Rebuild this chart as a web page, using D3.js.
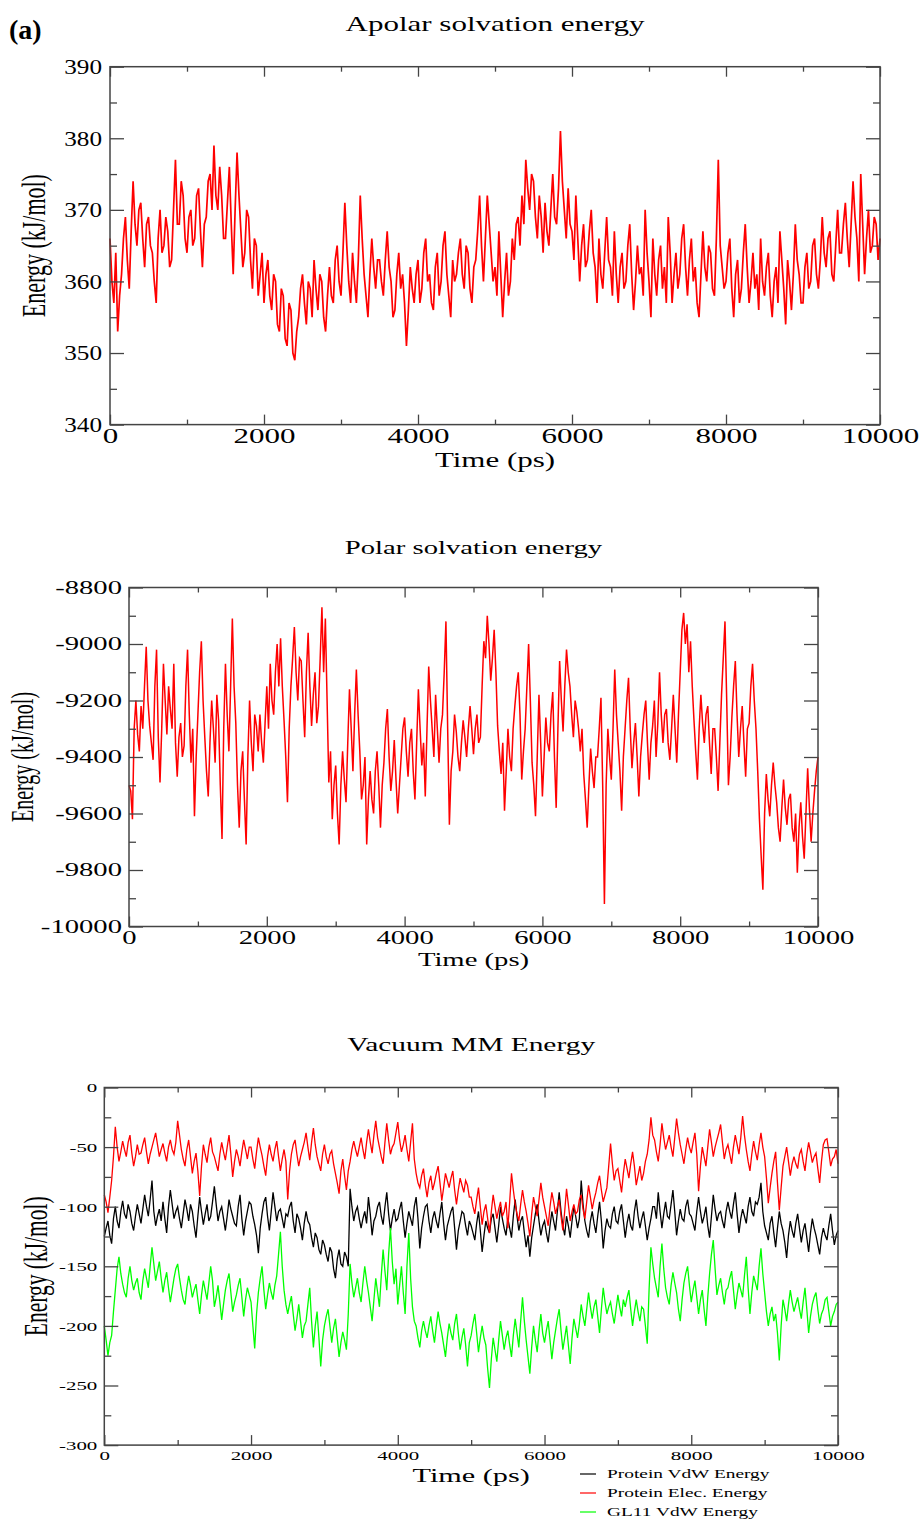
<!DOCTYPE html>
<html>
<head>
<meta charset="utf-8">
<script src="https://cdn.jsdelivr.net/npm/d3@7"></script>
<style>
  body { margin: 0; background: #fff; }
  svg { display: block; }
</style>
</head>
<body>
<div id="chart"></div>
<script>
// sampling of every trajectory (ps between points)
const timeStep = 25;

// Apolar solvation energy (kJ/mol), 0..10000 ps
const apolarEnergy = [
  366, 360, 357, 364, 353, 358, 361, 366, 369, 363, 359, 367, 374, 368, 365, 370, 371, 366, 362, 368,
  369, 365, 364, 360, 357, 366, 370, 364, 365, 369, 367, 362, 363, 370, 377, 368, 368, 374, 372, 366,
  364, 369, 370, 365, 366, 372, 373, 367, 362, 368, 369, 374, 375, 370, 379, 372, 370, 376, 372, 366,
  366, 371, 376, 368, 361, 370, 378, 372, 367, 362, 364, 370, 369, 363, 359, 366, 365, 358, 361, 364,
  357, 361, 363, 358, 356, 361, 360, 354, 353, 359, 358, 352, 351, 357, 356, 350, 349, 353, 355, 359,
  361, 357, 354, 360, 359, 355, 363, 359, 356, 361, 360, 355, 353, 358, 362, 358, 357, 363, 365, 360,
  358, 364, 371, 365, 360, 357, 364, 360, 357, 363, 372, 366, 361, 358, 355, 361, 366, 362, 359, 363,
  363, 360, 358, 363, 367, 362, 360, 355, 356, 361, 364, 359, 361, 357, 351, 356, 362, 359, 357, 361,
  363, 357, 359, 364, 366, 360, 361, 357, 356, 362, 364, 358, 360, 365, 367, 361, 358, 355, 363, 360,
  361, 364, 366, 361, 359, 365, 364, 359, 357, 362, 363, 367, 372, 365, 360, 366, 372, 368, 364, 360,
  362, 358, 367, 361, 355, 360, 364, 358, 360, 366, 363, 368, 369, 365, 372, 368, 377, 373, 370, 375,
  374, 369, 366, 372, 369, 364, 371, 367, 365, 370, 375, 369, 368, 373, 381, 374, 370, 366, 373, 368,
  367, 363, 372, 366, 360, 365, 368, 362, 363, 367, 370, 364, 362, 357, 366, 361, 359, 364, 369, 363,
  362, 358, 367, 361, 357, 362, 364, 359, 360, 365, 368, 361, 356, 360, 365, 361, 362, 358, 370, 364,
  360, 355, 366, 361, 358, 363, 365, 359, 362, 357, 369, 364, 357, 361, 364, 359, 361, 366, 368, 362,
  358, 363, 366, 360, 362, 357, 355, 361, 367, 362, 360, 365, 364, 359, 358, 366, 377, 365, 362, 359,
  360, 364, 366, 359, 355, 361, 363, 357, 359, 364, 368, 362, 357, 360, 364, 359, 361, 356, 366, 360,
  358, 362, 364, 358, 355, 360, 362, 357, 367, 363, 359, 354, 363, 360, 356, 361, 368, 363, 361, 357,
  357, 362, 364, 359, 360, 365, 366, 361, 359, 363, 369, 364, 362, 366, 367, 361, 360, 365, 370, 364,
  364, 368, 371, 366, 362, 368, 374, 369, 366, 360, 375, 368, 361, 366, 370, 364, 365, 369, 368, 363,
  366
];

// Polar solvation energy (kJ/mol)
const polarEnergy = [
  -9500, -9520, -9620, -9300, -9200, -9320, -9380, -9220, -9300, -9150, -9010, -9200, -9290, -9350, -9410, -9150, -9020, -9330, -9490, -9300,
  -9070, -9200, -9320, -9150, -9230, -9300, -9070, -9350, -9470, -9330, -9280, -9400, -9360, -9150, -9020, -9250, -9420, -9300, -9610, -9400,
  -9250, -9100, -8990, -9200, -9330, -9450, -9540, -9350, -9200, -9300, -9420, -9180, -9270, -9500, -9690, -9300, -9070, -9250, -9380, -9150,
  -8910, -9150, -9280, -9500, -9650, -9450, -9380, -9550, -9710, -9400, -9200, -9350, -9450, -9250, -9290, -9380, -9250, -9350, -9420, -9280,
  -9150, -9300, -9070, -9200, -9250, -9100, -9000, -9150, -8980, -9150, -9270, -9400, -9560, -9300, -9150, -9050, -8940, -9100, -9200, -9050,
  -9060, -9200, -9330, -9100, -8960, -9150, -9290, -9180, -9100, -9280, -9220, -9050, -8870, -9100, -8910, -9200, -9490, -9380, -9620, -9500,
  -9430, -9600, -9710, -9500, -9380, -9480, -9560, -9350, -9160, -9300, -9450, -9250, -9090, -9250, -9380, -9550, -9500, -9400, -9710, -9550,
  -9450, -9550, -9600, -9450, -9380, -9500, -9650, -9500, -9420, -9300, -9230, -9400, -9520, -9450, -9340, -9480, -9600, -9500, -9400, -9300,
  -9260, -9380, -9470, -9350, -9300, -9450, -9550, -9350, -9160, -9300, -9430, -9350, -9540, -9300, -9080, -9200, -9300, -9400, -9180, -9300,
  -9420, -9300, -9250, -9100, -8920, -9300, -9640, -9450, -9380, -9250, -9310, -9400, -9450, -9350, -9270, -9330, -9400, -9300, -9220, -9300,
  -9390, -9300, -9250, -9350, -9330, -9150, -8990, -9050, -8900, -9000, -9130, -9050, -8950, -9100, -9290, -9380, -9460, -9350, -9590, -9450,
  -9300, -9400, -9450, -9300, -9220, -9150, -9100, -9250, -9480, -9380, -9300, -9150, -9000, -9200, -9420, -9500, -9610, -9400, -9180, -9350,
  -9540, -9400, -9260, -9350, -9380, -9250, -9170, -9400, -9580, -9300, -9060, -9200, -9310, -9150, -9020, -9100, -9150, -9250, -9330, -9200,
  -9240, -9300, -9380, -9300, -9460, -9550, -9650, -9500, -9370, -9450, -9510, -9400, -9400, -9300, -9190, -9500, -9920, -9500, -9300, -9400,
  -9480, -9300, -9090, -9250, -9350, -9450, -9590, -9400, -9300, -9200, -9120, -9300, -9440, -9350, -9280, -9400, -9540, -9400, -9320, -9250,
  -9200, -9350, -9480, -9350, -9290, -9200, -9400, -9280, -9100, -9250, -9350, -9250, -9230, -9350, -9410, -9300, -9180, -9300, -9420, -9250,
  -9100, -8950, -8890, -9000, -8930, -9100, -8990, -9150, -9270, -9380, -9480, -9300, -9180, -9280, -9350, -9250, -9220, -9350, -9460, -9300,
  -9300, -9400, -9520, -9350, -9180, -9050, -8920, -9200, -9500, -9400, -9260, -9150, -9060, -9250, -9400, -9300, -9220, -9350, -9470, -9300,
  -9280, -9150, -9070, -9200, -9300, -9450, -9620, -9750, -9870, -9600, -9460, -9550, -9610, -9500, -9420, -9500, -9560, -9650, -9700, -9580,
  -9480, -9580, -9640, -9550, -9530, -9650, -9700, -9600, -9810, -9650, -9560, -9680, -9760, -9600, -9440, -9580, -9700, -9600, -9520, -9450,
  -9400
];

// Vacuum MM energy components (kJ/mol)
const proteinVdw = [
  -125, -118, -112, -124, -131, -110, -100, -112, -118, -104, -95, -106, -110, -98, -104, -114, -120, -108, -98, -106,
  -114, -102, -90, -100, -108, -94, -78, -104, -116, -108, -102, -112, -96, -110, -122, -100, -86, -98, -110, -104,
  -100, -110, -118, -106, -94, -102, -112, -98, -104, -116, -126, -108, -92, -104, -115, -106, -98, -112, -108, -96,
  -83, -98, -112, -104, -100, -110, -120, -108, -94, -102, -108, -114, -116, -100, -90, -110, -124, -112, -104, -96,
  -98, -108, -115, -124, -139, -118, -106, -96, -92, -108, -120, -104, -88, -100, -112, -104, -102, -110, -118, -106,
  -108, -100, -96, -112, -122, -106, -110, -118, -128, -114, -104, -112, -115, -126, -134, -122, -126, -136, -140, -128,
  -132, -140, -146, -134, -138, -152, -160, -144, -136, -148, -150, -138, -142, -150, -85, -100, -112, -104, -100, -110,
  -118, -110, -104, -114, -92, -106, -124, -112, -108, -100, -96, -108, -115, -100, -88, -106, -120, -110, -102, -112,
  -110, -102, -96, -112, -126, -114, -104, -110, -116, -100, -92, -110, -135, -118, -108, -100, -98, -112, -122, -110,
  -104, -112, -118, -106, -96, -114, -128, -116, -110, -104, -100, -118, -136, -120, -112, -104, -106, -116, -124, -112,
  -116, -122, -128, -114, -104, -120, -138, -124, -112, -118, -122, -110, -106, -118, -130, -116, -100, -110, -118, -124,
  -110, -118, -126, -108, -94, -108, -120, -112, -108, -122, -134, -124, -142, -126, -116, -106, -98, -112, -124, -116,
  -112, -122, -130, -116, -104, -112, -120, -104, -88, -104, -116, -124, -108, -116, -126, -112, -100, -108, -118, -110,
  -78, -98, -112, -120, -126, -112, -104, -114, -122, -108, -96, -112, -135, -120, -110, -116, -118, -106, -100, -112,
  -114, -104, -98, -112, -126, -114, -106, -116, -120, -104, -94, -108, -118, -110, -104, -116, -128, -118, -110, -100,
  -100, -110, -88, -104, -118, -106, -96, -108, -110, -98, -86, -104, -124, -112, -102, -110, -112, -100, -94, -106,
  -108, -114, -120, -104, -92, -104, -114, -108, -100, -116, -126, -108, -90, -102, -112, -106, -104, -112, -118, -104,
  -96, -104, -110, -98, -88, -106, -122, -110, -102, -108, -114, -100, -92, -104, -108, -96, -98, -92, -80, -104,
  -116, -122, -128, -114, -108, -122, -134, -118, -104, -114, -120, -130, -143, -124, -112, -120, -126, -114, -106, -118,
  -130, -120, -114, -126, -138, -122, -110, -118, -124, -132, -140, -126, -118, -124, -128, -116, -106, -120, -132, -124,
  -120
];

const proteinElec = [
  -90, -96, -105, -92, -78, -58, -33, -50, -62, -54, -45, -52, -58, -46, -40, -55, -66, -58, -48, -56,
  -55, -48, -42, -54, -64, -56, -50, -44, -38, -48, -58, -52, -47, -55, -62, -50, -44, -52, -56, -46,
  -28, -40, -52, -60, -66, -52, -44, -58, -72, -62, -55, -70, -91, -66, -48, -56, -63, -50, -42, -54,
  -58, -64, -70, -56, -46, -54, -61, -50, -40, -56, -75, -62, -52, -58, -66, -54, -44, -52, -60, -50,
  -50, -60, -68, -54, -42, -50, -57, -66, -74, -58, -48, -56, -62, -52, -45, -58, -70, -60, -52, -62,
  -94, -70, -56, -48, -44, -56, -66, -58, -52, -46, -38, -50, -61, -46, -34, -48, -58, -64, -70, -56,
  -48, -58, -64, -56, -53, -64, -72, -80, -89, -70, -60, -74, -86, -70, -62, -52, -45, -52, -58, -50,
  -42, -52, -60, -46, -35, -46, -55, -40, -28, -42, -50, -58, -64, -46, -30, -44, -56, -50, -47, -38,
  -29, -44, -54, -48, -40, -52, -62, -46, -30, -60, -72, -80, -84, -74, -68, -82, -92, -80, -74, -86,
  -80, -72, -66, -80, -95, -84, -72, -78, -84, -76, -70, -86, -98, -86, -76, -82, -88, -78, -82, -92,
  -92, -100, -106, -94, -84, -100, -115, -104, -98, -110, -122, -104, -90, -100, -110, -102, -96, -108, -104, -96,
  -118, -96, -72, -86, -98, -106, -112, -98, -86, -96, -104, -114, -125, -106, -92, -100, -108, -94, -80, -92,
  -100, -108, -116, -100, -88, -96, -106, -100, -94, -108, -120, -104, -85, -98, -112, -104, -98, -106, -104, -94,
  -90, -102, -110, -96, -82, -92, -102, -94, -88, -80, -74, -86, -96, -90, -84, -66, -47, -64, -78, -70,
  -68, -78, -88, -72, -60, -68, -76, -64, -54, -66, -82, -74, -66, -78, -72, -62, -56, -44, -25, -40,
  -44, -54, -62, -48, -30, -42, -52, -46, -40, -50, -58, -42, -26, -38, -48, -56, -64, -52, -42, -50,
  -55, -46, -38, -56, -87, -66, -50, -58, -66, -50, -35, -46, -58, -50, -44, -38, -31, -46, -60, -52,
  -48, -56, -64, -50, -40, -48, -56, -42, -24, -40, -52, -62, -70, -56, -45, -54, -61, -48, -38, -50,
  -58, -76, -97, -84, -72, -62, -54, -80, -103, -84, -66, -58, -50, -62, -74, -64, -58, -64, -68, -56,
  -52, -62, -70, -56, -46, -54, -63, -58, -55, -68, -80, -62, -48, -44, -43, -54, -66, -60, -58, -52,
  -64
];

const gl11Vdw = [
  -200, -212, -225, -214, -208, -188, -170, -152, -142, -156, -165, -172, -176, -160, -150, -162, -170, -164, -160, -172,
  -178, -162, -152, -160, -168, -150, -134, -148, -162, -154, -146, -160, -172, -162, -155, -168, -180, -170, -160, -152,
  -148, -160, -170, -178, -182, -168, -158, -166, -176, -170, -165, -178, -190, -174, -162, -170, -178, -164, -150, -162,
  -184, -176, -166, -180, -195, -182, -170, -162, -156, -172, -188, -180, -174, -166, -160, -176, -192, -178, -168, -174,
  -180, -200, -219, -190, -172, -160, -150, -170, -186, -174, -164, -172, -178, -166, -158, -140, -121, -150, -170, -182,
  -190, -182, -175, -190, -204, -194, -182, -196, -210, -200, -196, -182, -168, -196, -218, -200, -188, -210, -234, -212,
  -200, -192, -186, -200, -214, -202, -194, -210, -226, -214, -205, -212, -220, -190, -148, -164, -176, -168, -160, -172,
  -180, -164, -150, -162, -172, -184, -196, -178, -160, -172, -184, -158, -136, -154, -170, -140, -118, -146, -165, -152,
  -182, -166, -150, -172, -190, -150, -122, -160, -184, -196, -200, -210, -218, -204, -196, -204, -210, -200, -192, -204,
  -214, -200, -188, -198, -206, -216, -226, -210, -198, -206, -212, -198, -190, -206, -220, -210, -202, -216, -234, -214,
  -208, -198, -190, -206, -222, -210, -200, -210, -216, -236, -252, -228, -210, -220, -230, -212, -196, -208, -220, -210,
  -204, -216, -226, -208, -194, -206, -218, -196, -176, -196, -212, -226, -240, -218, -200, -212, -222, -204, -190, -206,
  -214, -204, -196, -212, -228, -214, -204, -194, -186, -204, -220, -210, -200, -216, -232, -210, -194, -202, -210, -198,
  -182, -192, -200, -186, -172, -184, -194, -184, -178, -192, -206, -186, -168, -180, -190, -184, -180, -190, -198, -186,
  -174, -184, -192, -178, -184, -176, -170, -186, -200, -188, -178, -188, -196, -184, -186, -200, -215, -170, -134, -148,
  -160, -168, -176, -150, -131, -152, -168, -176, -182, -166, -155, -164, -172, -186, -196, -178, -164, -156, -150, -166,
  -180, -170, -162, -176, -190, -178, -170, -186, -200, -176, -156, -140, -128, -152, -174, -166, -160, -172, -182, -170,
  -168, -160, -154, -170, -186, -174, -164, -170, -176, -158, -142, -168, -190, -172, -158, -164, -170, -150, -135, -156,
  -172, -188, -200, -190, -184, -196, -190, -206, -229, -200, -178, -186, -196, -182, -170, -180, -188, -182, -176, -186,
  -194, -180, -168, -186, -206, -192, -182, -176, -172, -186, -198, -190, -186, -178, -176, -188, -200, -192, -188, -182,
  -180
];

const seriesNames = ["Protein VdW Energy", "Protein Elec. Energy", "GL11 VdW Energy"];
const seriesColors = ["#000000", "#ff0000", "#00ff00"];

// tick values
const timeTicks = [0, 2000, 4000, 6000, 8000, 10000];
const timeMinor = [1000, 3000, 5000, 7000, 9000];
const apolarTicks = [340, 350, 360, 370, 380, 390];
const apolarMinor = [345, 355, 365, 375, 385];
const polarTicks = [-10000, -9800, -9600, -9400, -9200, -9000, -8800];
const polarMinor = [-9900, -9700, -9500, -9300, -9100, -8900];
const vacuumTicks = [-300, -250, -200, -150, -100, -50, 0];
const vacuumMinor = [-275, -225, -175, -125, -75, -25];

const W = 920, H = 1520;
const SX = 1.55;   // the figure is stretched sideways
const FONT = '"Liberation Serif", "Times New Roman", serif';
const AXIS = "#444";

const svg = d3.select("#chart").append("svg")
  .attr("width", W).attr("height", H)
  .attr("viewBox", [0, 0, W, H]);

function text(str, x, y, size, opts = {}) {
  const rot = opts.rotate ? " rotate(-90)" : "";
  return svg.append("text")
    .attr("transform", `translate(${x},${y}) scale(${opts.sx || SX},1)${rot}`)
    .attr("text-anchor", opts.anchor || "middle")
    .attr("font-family", FONT)
    .attr("font-size", size)
    .attr("font-weight", opts.bold ? "bold" : null)
    .attr("fill", "#000")
    .text(str);
}

function drawPanel(o) {
  const x = d3.scaleLinear().domain([0, 10000]).range([o.left, o.right]);
  const y = d3.scaleLinear().domain(o.yDomain).range([o.bottom, o.top]);
  const g = svg.append("g");
  const ysx = o.yTickSX || SX;

  const line = d3.line()
    .x((d, i) => x(i * timeStep))
    .y(d => y(d));

  o.series.forEach(s => {
    g.append("path")
      .datum(s.values)
      .attr("fill", "none")
      .attr("stroke", s.color)
      .attr("stroke-width", o.lineWidth)
      .attr("d", line);
  });

  const clean = sel => {
    sel.select(".domain").remove();
    sel.selectAll(".tick line").attr("stroke", AXIS).attr("stroke-width", 1.3);
  };

  // ticks point inwards on all four sides
  g.append("g").attr("transform", `translate(0,${o.bottom})`)
    .call(d3.axisBottom(x).tickValues(timeTicks).tickSize(-10).tickPadding(o.xPad)
      .tickFormat(d => String(d)))
    .call(clean)
    .call(a => a.selectAll("text")
      .attr("font-family", FONT).attr("font-size", o.tickFont).attr("fill", "#000")
      .attr("transform", `scale(${SX},1)`));
  g.append("g").attr("transform", `translate(0,${o.bottom})`)
    .call(d3.axisBottom(x).tickValues(timeMinor).tickSize(-5).tickFormat(""))
    .call(clean);
  g.append("g").attr("transform", `translate(0,${o.top})`)
    .call(d3.axisTop(x).tickValues(timeTicks).tickSize(-10).tickFormat(""))
    .call(clean);
  g.append("g").attr("transform", `translate(0,${o.top})`)
    .call(d3.axisTop(x).tickValues(timeMinor).tickSize(-5).tickFormat(""))
    .call(clean);

  g.append("g").attr("transform", `translate(${o.left},0)`)
    .call(d3.axisLeft(y).tickValues(o.yTicks).tickSize(-14).tickPadding(o.yGap / ysx)
      .tickFormat(d => String(d)))
    .call(clean)
    .call(a => a.selectAll("text")
      .attr("font-family", FONT).attr("font-size", o.yTickFont || o.tickFont).attr("fill", "#000")
      .attr("transform", `scale(${ysx},1)`));
  g.append("g").attr("transform", `translate(${o.left},0)`)
    .call(d3.axisLeft(y).tickValues(o.yMinor).tickSize(-7).tickFormat(""))
    .call(clean);
  g.append("g").attr("transform", `translate(${o.right},0)`)
    .call(d3.axisRight(y).tickValues(o.yTicks).tickSize(-14).tickFormat(""))
    .call(clean);
  g.append("g").attr("transform", `translate(${o.right},0)`)
    .call(d3.axisRight(y).tickValues(o.yMinor).tickSize(-7).tickFormat(""))
    .call(clean);

  g.append("rect")
    .attr("x", o.left).attr("y", o.top)
    .attr("width", o.right - o.left).attr("height", o.bottom - o.top)
    .attr("fill", "none").attr("stroke", AXIS).attr("stroke-width", 1.5);

  const cx = (o.left + o.right) / 2;
  text(o.title, cx, o.titleY, o.titleFont);
  text("Time (ps)", cx, o.xTitleY, o.xTitleFont);
  text("Energy (kJ/mol)", o.yTitleX, (o.top + o.bottom) / 2, o.yTitleFont, { rotate: true });
  return { x, y };
}

text("(a)", 9, 39, 28, { anchor: "start", bold: true, sx: 1.0 });

drawPanel({
  left: 110, right: 880, top: 66.7, bottom: 424.6,
  yDomain: [340, 390], yTicks: apolarTicks, yMinor: apolarMinor,
  series: [{ values: apolarEnergy, color: "#ff0000" }], lineWidth: 1.7,
  tickFont: 20, yTickFont: 21, yTickSX: 1.2, xPad: 4, yGap: 8,
  title: "Apolar solvation energy", titleY: 31, titleFont: 20,
  xTitleY: 467, xTitleFont: 20, yTitleX: 45, yTitleFont: 22
});

drawPanel({
  left: 129, right: 818, top: 587.5, bottom: 926.5,
  yDomain: [-10000, -8800], yTicks: polarTicks, yMinor: polarMinor,
  series: [{ values: polarEnergy, color: "#ff0000" }], lineWidth: 1.5,
  tickFont: 18.5, xPad: 4, yGap: 7,
  title: "Polar solvation energy", titleY: 554, titleFont: 18.5,
  xTitleY: 966, xTitleFont: 18.5, yTitleX: 33, yTitleFont: 20
});

drawPanel({
  left: 104.3, right: 838, top: 1087.5, bottom: 1445.1,
  yDomain: [-300, 0], yTicks: vacuumTicks, yMinor: vacuumMinor,
  series: [
    { values: proteinVdw, color: seriesColors[0] },
    { values: proteinElec, color: seriesColors[1] },
    { values: gl11Vdw, color: seriesColors[2] }
  ], lineWidth: 1.3,
  tickFont: 13.5, xPad: 5, yGap: 7,
  title: "Vacuum MM Energy", titleY: 1051, titleFont: 19,
  xTitleY: 1482, xTitleFont: 19.5, yTitleX: 47, yTitleFont: 21.5
});

// legend
const legend = svg.append("g");
seriesNames.forEach((name, i) => {
  const ly = 1474 + i * 19;
  legend.append("line")
    .attr("x1", 580).attr("x2", 596).attr("y1", ly).attr("y2", ly)
    .attr("stroke", seriesColors[i]).attr("stroke-width", 1.2);
  text(name, 607, ly + 4, 12.5, { anchor: "start" });
});
</script>
</body>
</html>
